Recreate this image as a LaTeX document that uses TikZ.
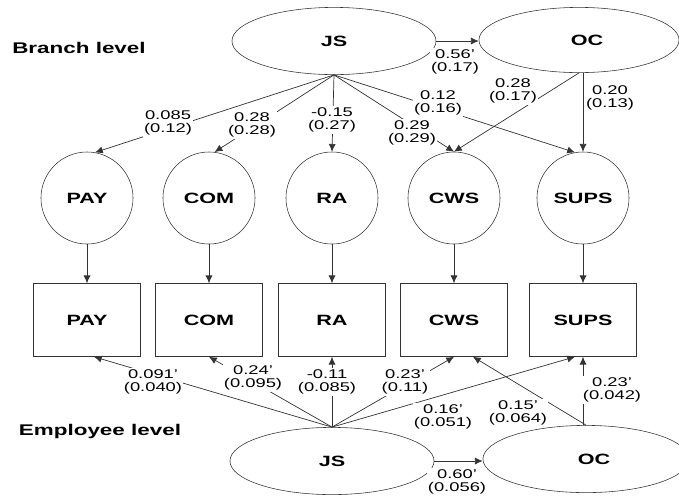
\documentclass[tikz,border=0pt]{standalone}
\usepackage{fontspec}
\setmainfont[FakeStretch=1.45]{Liberation Sans}
\usetikzlibrary{arrows.meta,positioning,calc,shapes.geometric}

\begin{document}
\begin{tikzpicture}[x=0.025cm, y=-0.025cm, >={Latex[length=5.5pt,width=5pt]},
  latent/.style={ellipse,draw=black!80,minimum width=5.1cm,minimum height=1.68cm,font=\fontsize{10.6}{12}\selectfont\bfseries},
  factor/.style={circle,draw=black!80,minimum size=2.3cm,font=\fontsize{10.6}{12}\selectfont\bfseries},
  item/.style={rectangle,draw=black!80,minimum width=2.675cm,minimum height=1.825cm,font=\fontsize{10.6}{12}\selectfont\bfseries},
  coef/.style={fill=white,inner sep=1pt,align=center,font=\fontsize{9}{9.5}\selectfont},
  level/.style={font=\fontsize{11}{13}\selectfont\bfseries},
  link/.style={->,draw=black!80,line width=0.5pt}]
\useasboundingbox (0,0) rectangle (679,496);

% level titles
\node[level, name=branch] at (79,48) {Branch level};
\node[level, name=employee] at (100,431) {Employee level};

% branch level JS and OC
\node[latent, name=bjs] at (334,41) {JS};
\node[latent, name=boc, minimum width=5cm, minimum height=1.63cm] at (579,40) {\hspace{0.4cm}OC};

% facets
\node[factor, name=pay] at (87,198) {PAY};
\node[factor, name=com] at (209,198) {COM};
\node[factor, name=ra] at (332,198) {RA};
\node[factor, name=cws] at (454,198) {CWS};
\node[factor, name=sups] at (583,198) {SUPS};

% observed items
\node[item, name=ipay] at (87,320) {PAY};
\node[item, name=icom] at (209,320) {COM};
\node[item, name=ira] at (332,320) {RA};
\node[item, name=icws] at (454,320) {CWS};
\node[item, name=isups] at (583,320) {SUPS};

% employee level JS and OC
\node[latent, name=ejs] at (332,461) {JS};
\node[latent, name=eoc, minimum width=5.15cm] at (586,459) {\hspace{0.4cm}OC};

% arrows at branch level
\draw[link] (bjs.east) -- (bjs.east -| boc.west);
\draw[link] (bjs.south) -- (pay.80);
\draw[link] (bjs.south) -- (com.83);
\draw[link] (bjs.south) -- (ra.north);
\draw[link] (bjs.south) -- (cws.north);
\draw[link] (bjs.south) -- (sups.100);
\draw[link] (boc.south) -- (cws.north);
\draw[link] (boc.south -| sups.north) -- (sups.north);

% facets to items
\foreach \f in {pay,com,ra,cws,sups}
  \draw[link] (\f.south) -- (i\f.north);

% arrows at employee level
\draw[link] (ejs.east) -- (ejs.east -| eoc.west);
\draw[link] (ejs.north) -- ($(ipay.south)+(7,0)$);
\draw[link] (ejs.north) -- (icom.south);
\draw[link] (ejs.north) -- (ira.south);
\draw[link] (ejs.north) -- (icws.south);
\draw[link] (ejs.north) -- ($(isups.south)+(-8,0)$);
\draw[link] (eoc.north) -- ($(icws.south)+(19,0)$);
\draw[link] (eoc.north -| isups.south) -- (isups.south);

% coefficients, branch level
\node[coef] at (455,62) {0.56'\\(0.17)};
\node[coef] at (168,123) {0.085\\(0.12)};
\node[coef] at (252,125) {0.28\\(0.28)};
\node[coef] at (332,120) {-0.15\\(0.27)};
\node[coef] at (412,133) {0.29\\(0.29)};
\node[coef] at (438,103) {0.12\\(0.16)};
\node[coef] at (513,91) {0.28\\(0.17)};
\node[coef] at (610,98) {0.20\\(0.13)};

% coefficients, employee level
\node[coef] at (153,382) {0.091'\\(0.040)};
\node[coef] at (253,378) {0.24'\\(0.095)};
\node[coef] at (327,382) {-0.11\\(0.085)};
\node[coef] at (405,382) {0.23'\\(0.11)};
\node[coef] at (443,417) {0.16'\\(0.051)};
\node[coef] at (518,413) {0.15'\\(0.064)};
\node[coef] at (612,390) {0.23'\\(0.042)};
\node[coef] at (457,482) {0.60'\\(0.056)};
\end{tikzpicture}
\end{document}
